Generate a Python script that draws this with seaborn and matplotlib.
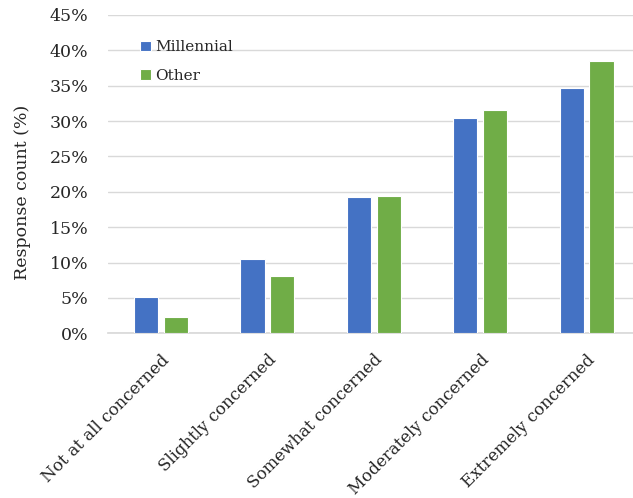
import matplotlib
matplotlib.use('Agg')
import matplotlib.pyplot as plt
import pandas as pd
import seaborn as sns

# ── Данные ────────────────────────────────────────────────────────────────────
categories = ['Not at all concerned', 'Slightly concerned', 'Somewhat concerned',
              'Moderately concerned', 'Extremely concerned']
millennial = [5.1, 10.5, 19.3, 30.5, 34.7]
other      = [2.3, 8.1, 19.4, 31.5, 38.5]
groups     = ['Millennial', 'Other']
y_ticks    = [0, 5, 10, 15, 20, 25, 30, 35, 40, 45]

COLORS = ['#4472C4', '#70AD47']

df = pd.DataFrame({
    'category': categories * 2,
    'group': [groups[0]] * len(categories) + [groups[1]] * len(categories),
    'value': millennial + other,
})

sns.set_theme(style='white')
plt.rcParams['font.family'] = ['DejaVu Serif']

fig = plt.figure(figsize=(6.33, 4.98), dpi=100)
ax = fig.add_axes([108 / 633, 164.7 / 498, 525 / 633, 318.3 / 498])

sns.barplot(data=df, x='category', y='value', hue='group', palette=COLORS,
            saturation=1, width=0.56, gap=0.19, edgecolor='white',
            linewidth=0.8, ax=ax, zorder=3)

ax.set_xlim(-0.498, 4.436)
ax.set_ylim(0, 45)
ax.set_yticks(y_ticks)
ax.set_yticklabels([f'{t}%' for t in y_ticks], fontsize=12.5, color='#262626')
ax.grid(axis='y', color='#d9d9d9', linewidth=1, zorder=0)
ax.tick_params(axis='y', length=0, pad=14)
ax.tick_params(axis='x', length=0, pad=13)
for side in ['top', 'right', 'left']:
    ax.spines[side].set_visible(False)
ax.spines['bottom'].set_color('#d9d9d9')

plt.setp(ax.get_xticklabels(), rotation=45, ha='right', rotation_mode='anchor',
         fontsize=12, color='#262626')
ax.set_xlabel('')
ax.set_ylabel('Response count (%)', fontsize=12.5, color='#262626')
ax.yaxis.set_label_coords(-0.147, 0.444)

ax.legend(loc='upper left', bbox_to_anchor=(0.061, 0.92), frameon=False,
          fontsize=11, handlelength=0.7, handleheight=0.7, handletextpad=0.3,
          labelspacing=0.95, borderpad=0, borderaxespad=0)

fig.savefig('out.png', dpi=100)
